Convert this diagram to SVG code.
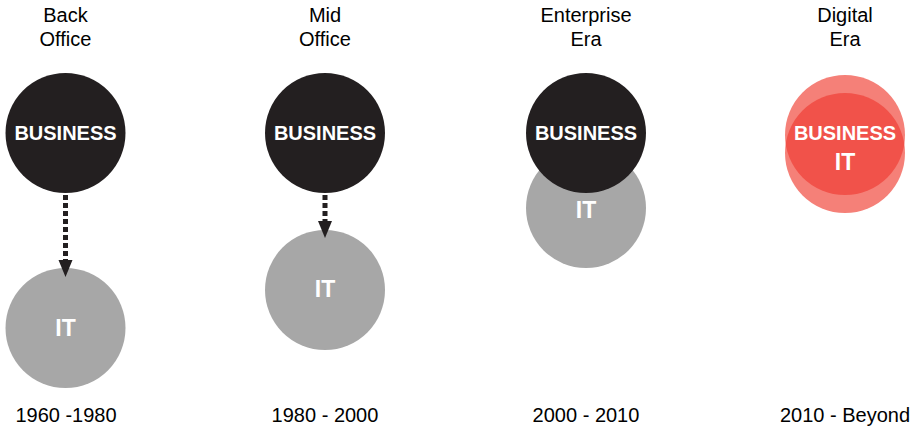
<svg xmlns="http://www.w3.org/2000/svg" width="914" height="427" viewBox="0 0 914 427">
<style>
.hd{font-family:"Liberation Sans",Arial,sans-serif;font-size:20px;fill:#000;text-anchor:middle}
.dt{font-family:"Liberation Sans",Arial,sans-serif;font-size:20px;fill:#000;text-anchor:middle}
.lb{font-family:"Liberation Sans",Arial,sans-serif;font-size:20px;font-weight:bold;fill:#fff;text-anchor:middle}
.lbi{font-family:"Liberation Sans",Arial,sans-serif;font-size:23px;font-weight:bold;fill:#fff;text-anchor:middle}
.biz{fill:#231f20}
.it{fill:#a7a7a7}
.red{fill:#f58078}
.red2{fill:#f1524a}
.dash{stroke:#231f20;stroke-width:5;stroke-dasharray:5 3;fill:none}
</style>
<defs>
<clipPath id="topc"><circle cx="845" cy="135" r="60"/></clipPath>
</defs>
<g id="headings">
<text class="hd" x="65.5" y="22">Back</text><text class="hd" x="65.5" y="46">Office</text>
<text class="hd" x="325" y="22">Mid</text><text class="hd" x="325" y="46">Office</text>
<text class="hd" x="586" y="22">Enterprise</text><text class="hd" x="586" y="46">Era</text>
<text class="hd" x="845" y="22">Digital</text><text class="hd" x="845" y="46">Era</text>
</g>
<g id="dates">
<text class="dt" x="66" y="422">1960 -1980</text>
<text class="dt" x="325" y="422">1980 - 2000</text>
<text class="dt" x="586" y="422">2000 - 2010</text>
<text class="dt" x="845" y="422">2010 - Beyond</text>
</g>
<g id="back-office-it"><circle class="it" cx="65.5" cy="328" r="60"/><text class="lbi" x="65.5" y="336">IT</text></g>
<g id="back-office-business"><circle class="biz" cx="65.5" cy="133" r="60"/><text class="lb" x="65.5" y="140">BUSINESS</text></g>
<g id="mid-office-it"><circle class="it" cx="325" cy="290" r="60"/><text class="lbi" x="325" y="297">IT</text></g>
<g id="mid-office-business"><circle class="biz" cx="325" cy="133" r="60"/><text class="lb" x="325" y="140">BUSINESS</text></g>
<g id="enterprise-it"><circle class="it" cx="586" cy="208" r="60"/><text class="lbi" x="586" y="218">IT</text></g>
<g id="enterprise-business"><circle class="biz" cx="586" cy="133" r="60"/><text class="lb" x="586" y="140">BUSINESS</text></g>
<g id="digital-business-it">
<circle class="red" cx="845" cy="135" r="60"/>
<circle class="red" cx="845" cy="153" r="60"/>
<circle class="red2" cx="845" cy="153" r="60" clip-path="url(#topc)"/>
<text class="lb" x="845" y="140">BUSINESS</text>
<text class="lbi" x="845" y="170">IT</text>
</g>
<g id="connectors">
<line class="dash" x1="65.5" y1="195" x2="65.5" y2="261"/>
<polygon fill="#231f20" points="58.5,260 72.5,260 65.5,277"/>
<line class="dash" x1="325" y1="195" x2="325" y2="222"/>
<polygon fill="#231f20" points="318,221 332,221 325,238"/>
</g>
</svg>
